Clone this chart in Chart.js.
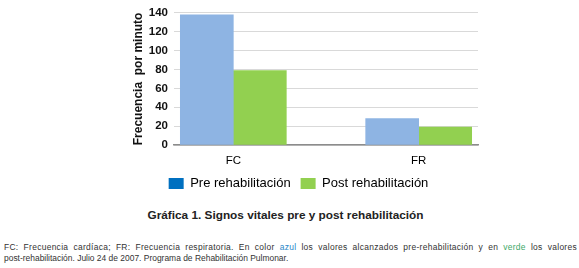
<!DOCTYPE html>
<html lang="es">
<head>
<meta charset="UTF-8">
<title>Signos vitales</title>
<script src="https://cdn.jsdelivr.net/npm/chart.js"></script>
<style>
  body { margin: 0; background: #fff; width: 579px; height: 268px; overflow: hidden; position: relative; font-family: "Liberation Sans", Arial, sans-serif; }
  #grafico { position: absolute; left: 0; top: 0; }
  #titulo { position: absolute; left: 0; width: 571px; top: 208px; text-align: center; font-weight: bold; font-size: 11.8px; color: #222; }
  .nota { position: absolute; left: 4px; font-size: 8.45px; line-height: 11px; color: #333; white-space: nowrap; }
  #nota1 { top: 242px; width: 573px; letter-spacing: 0.3px; text-align: justify; text-align-last: justify; white-space: normal; }
  #nota2 { top: 253px; }
  .azul { color: #2b87c8; }
  .verde { color: #3ea868; }
</style>
</head>
<body>
<canvas id="grafico" width="579" height="200"></canvas>
<div id="titulo">Gráfica 1. Signos vitales pre y post rehabilitación</div>
<div class="nota" id="nota1">FC: Frecuencia cardíaca; FR: Frecuencia respiratoria. En color <span class="azul">azul</span> los valores alcanzados pre-rehabilitación y en <span class="verde">verde</span> los valores</div>
<div class="nota" id="nota2">post-rehabilitación. Julio 24 de 2007. Programa de Rehabilitación Pulmonar.</div>

<script>
  // datos
  const categorias = ["FC", "FR"];
  const series = ["Pre rehabilitación", "Post rehabilitación"];
  const valoresPre = [138, 28];
  const valoresPost = [79, 19];
  const ticksY = [0, 20, 40, 60, 80, 100, 120, 140];

  const coloresBarra = ["#8eb4e3", "#92d050"];
  const coloresLeyenda = ["#0070c0", "#92d050"];

  const config = {
    type: 'bar',
    data: {
      labels: categorias,
      datasets: [
        { label: series[0], data: valoresPre, backgroundColor: coloresBarra[0], borderWidth: 0, barThickness: 53 },
        { label: series[1], data: valoresPost, backgroundColor: coloresBarra[1], borderWidth: 0, barThickness: 53 }
      ]
    },
    options: {
      responsive: false,
      animation: false,
      devicePixelRatio: 1,
      layout: { padding: { left: 119, right: 101, top: 12, bottom: 0 } },
      plugins: {
        tooltip: { enabled: false },
        legend: {
          position: 'bottom',
          labels: {
            boxWidth: 15,
            boxHeight: 11,
            padding: 10,
            color: '#000',
            font: { family: 'Liberation Sans', size: 13 },
            generateLabels: function (chart) {
              return Chart.defaults.plugins.legend.labels.generateLabels(chart).map(function (l, i) {
                l.fillStyle = coloresLeyenda[i];
                l.strokeStyle = coloresLeyenda[i];
                l.lineWidth = 0;
                return l;
              });
            }
          }
        }
      },
      scales: {
        x: {
          grid: { display: false, drawTicks: false },
          border: { display: true, color: '#8c8c8c', width: 1.5 },
          ticks: { color: '#000', padding: 9, font: { family: 'Liberation Sans', size: 11.5 } },
          afterBuildTicks: function (scale) {
            // las barras no estan centradas en cada mitad del eje
            scale._startValue = -0.32;
            scale._valueRange = 1.64;
          },
          afterFit: function (scale) { scale.height = 22; }
        },
        y: {
          min: 0,
          max: 140,
          afterBuildTicks: function (scale) {
            scale.ticks = ticksY.map(v => ({ value: v }));
          },
          afterFit: function (scale) { scale.width = 55; },
          grid: { color: '#d9d9d9', drawTicks: false },
          border: { display: false },
          ticks: { color: '#111', padding: 6, font: { family: 'Liberation Sans', size: 11.5, weight: 'bold' } },
          title: {
            display: true,
            text: 'Frecuencia  por minuto',
            color: '#111',
            padding: { top: 12, bottom: 0 },
            font: { family: 'Liberation Sans', size: 12, weight: 'bold' }
          }
        }
      }
    }
  };

  new Chart(document.getElementById('grafico'), config);
</script>
</body>
</html>
